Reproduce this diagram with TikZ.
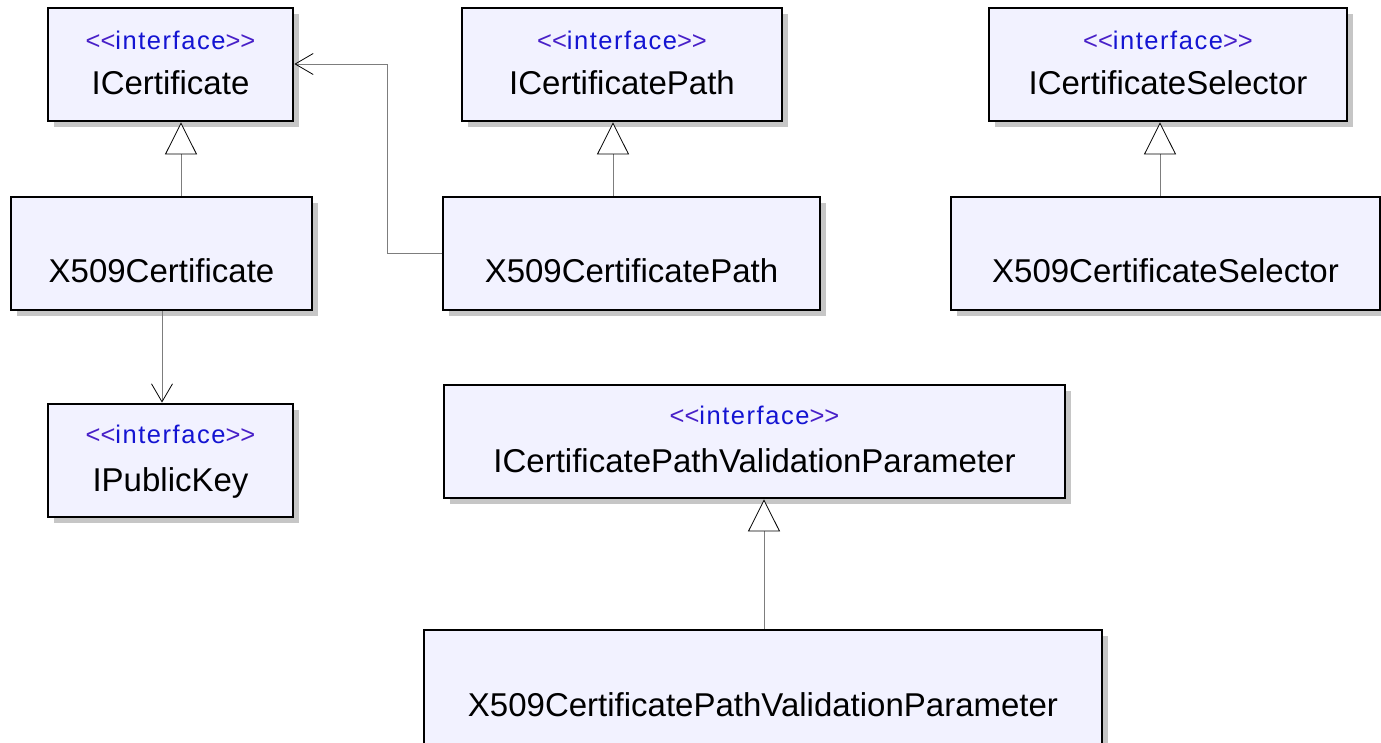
\documentclass[tikz,border=0pt]{standalone}
\usepackage{fontspec}
\usetikzlibrary{arrows.meta,shadows,calc}

\newfontfamily\titlefont{Liberation Sans}
\newfontfamily\stereofont[LetterSpace=6]{Liberation Sans}

\definecolor{boxfill}{RGB}{242,242,255}
\definecolor{boxshadow}{RGB}{198,198,198}
\definecolor{stereobrk}{RGB}{72,32,200}
\definecolor{stereoword}{RGB}{20,20,210}
\definecolor{linkgray}{RGB}{125,125,125}

% stereotype label, with the angle brackets kept as two separate glyphs
\newcommand\ifacetag{\textcolor{stereobrk}{<\kern0pt<}\textcolor{stereoword}{interface}\textcolor{stereobrk}{>\kern0pt>}}

\tikzset{
  cls/.style={draw=black, line width=2.8pt, fill=boxfill, inner sep=0pt,
    minimum height=113pt,
    drop shadow={shadow xshift=6pt, shadow yshift=-6pt, fill=boxshadow, opacity=1}},
  stereo/.style={anchor=base, inner sep=0pt,
    font=\stereofont\fontsize{25.5}{30}\selectfont},
  title/.style={anchor=base, inner sep=0pt, text=black,
    font=\titlefont\fontsize{33}{38}\selectfont},
  gen/.style={draw=linkgray, line width=0.8pt,
    -{Triangle[color=black, fill=white, length=32pt, width=32pt, line width=0.8pt]}},
  dep/.style={draw=linkgray, line width=0.8pt,
    -{Straight Barb[color=black, length=18pt, width=21pt, line width=0.8pt]}},
}

\begin{document}
\begin{tikzpicture}[x=1pt, y=-1pt]
\useasboundingbox (0,0) rectangle (1381,743);
\clip (0,0) rectangle (1381,743);

% ---- classes and interfaces ----
\node[cls, minimum width=245pt] (icert) at (170.5,64.5) {};
\node[stereo] (icert-st) at ($(icert.north)+(0,43)$) {\ifacetag};
\node[title]  (icert-t)  at ($(icert.north)+(0,88)$) {ICertificate};

\node[cls, minimum width=301pt] (x509cert) at (161.5,253.5) {};
\node[title] (x509cert-t) at ($(x509cert.north)+(0,87)$) {X509Certificate};

\node[cls, minimum width=245pt] (ipub) at (170.5,460.5) {};
\node[stereo] (ipub-st) at ($(ipub.north)+(0,41)$) {\ifacetag};
\node[title]  (ipub-t)  at ($(ipub.north)+(0,89)$) {IPublicKey};

\node[cls, minimum width=320pt] (icpath) at (622,64.5) {};
\node[stereo] (icpath-st) at ($(icpath.north)+(0,43)$) {\ifacetag};
\node[title]  (icpath-t)  at ($(icpath.north)+(0,88)$) {ICertificatePath};

\node[cls, minimum width=377pt] (x509path) at (631.5,253.5) {};
\node[title] (x509path-t) at ($(x509path.north)+(0,87)$) {X509CertificatePath};

\node[cls, minimum width=358pt] (icsel) at (1168,64.5) {};
\node[stereo] (icsel-st) at ($(icsel.north)+(0,43)$) {\ifacetag};
\node[title]  (icsel-t)  at ($(icsel.north)+(0,88)$) {ICertificateSelector};

\node[cls, minimum width=429pt] (x509sel) at (1165.5,253.5) {};
\node[title] (x509sel-t) at ($(x509sel.north)+(0,87)$) {X509CertificateSelector};

\node[cls, minimum width=621pt] (icpvp) at (754.5,441.5) {};
\node[stereo] (icpvp-st) at ($(icpvp.north)+(0,41)$) {\ifacetag};
\node[title]  (icpvp-t)  at ($(icpvp.north)+(0,89)$) {ICertificatePathValidationParameter};

\node[cls, minimum width=678pt, minimum height=116pt] (x509pvp) at (763,688) {};
\node[title] (x509pvp-t) at ($(x509pvp.north)+(0,88)$) {X509CertificatePathValidationParameter};

% ---- realizations ----
\draw[gen] (x509cert.north -| 181,0) -- (icert.south -| 181,0);
\draw[gen] (x509path.north -| 613,0) -- (icpath.south -| 613,0);
\draw[gen] (x509sel.north -| 1160,0) -- (icsel.south -| 1160,0);
\draw[gen] (x509pvp.north -| 764,0) -- (icpvp.south -| 764,0);

% ---- dependencies ----
\draw[dep] (x509cert.south -| 162,0) -- (ipub.north -| 162,0);
\coordinate (bendlow) at (387,253);
\coordinate (bendhigh) at (387,64);
\draw[dep] (x509path.west |- bendlow) -- (bendlow) -- (bendhigh) -- (icert.east |- bendhigh);
\end{tikzpicture}
\end{document}
